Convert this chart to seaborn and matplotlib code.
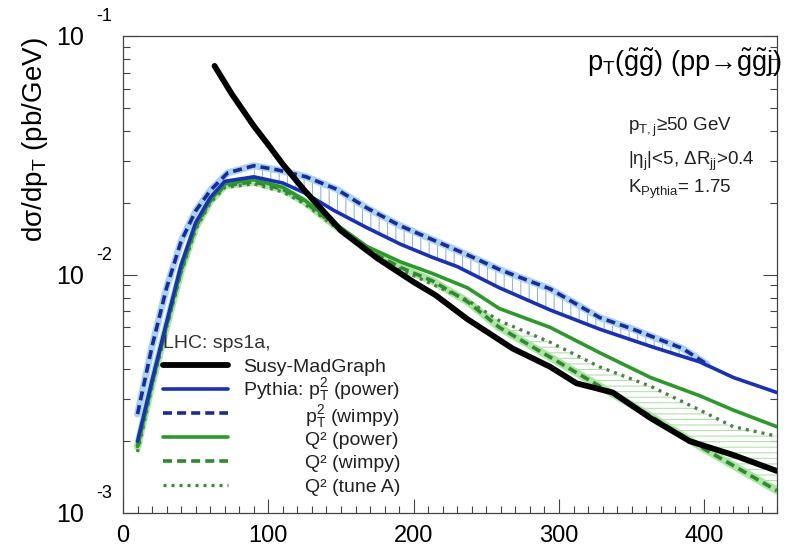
import numpy as np
import matplotlib
matplotlib.use("Agg")
import matplotlib.pyplot as plt
from matplotlib.lines import Line2D
from matplotlib.ticker import MultipleLocator, LogLocator, NullFormatter
import seaborn as sns

# --- values (pT in GeV, dsigma/dpT in pb/GeV) ---
x_mg = [63, 75, 90, 100, 110, 125, 150, 175, 200, 215, 237, 268, 294, 312, 337, 363, 390, 420, 450]
y_mg = [0.075, 0.057, 0.042, 0.035, 0.029, 0.0225, 0.0153, 0.0117, 0.0093, 0.0082, 0.0065, 0.0049,
        0.0041, 0.0035, 0.0032, 0.0025, 0.0020, 0.00175, 0.0015]

x_pt_power = [10, 20, 30, 40, 50, 60, 70, 90, 110, 125, 145, 168, 191, 213, 230, 259, 294, 328, 363, 397, 420, 450]
y_pt_power = [0.0020, 0.0036, 0.0063, 0.0110, 0.0165, 0.0210, 0.0246, 0.0257, 0.0242, 0.0220, 0.0186, 0.0157,
              0.0134, 0.0118, 0.0108, 0.0088, 0.0071, 0.0059, 0.0050, 0.0043, 0.0037, 0.0032]

x_pt_wimpy = [10, 20, 30, 40, 50, 60, 72, 90, 106, 126, 147, 168, 190, 213, 237, 259, 294, 328, 351, 385, 402]
y_pt_wimpy = [0.0026, 0.0050, 0.0088, 0.0138, 0.0185, 0.0225, 0.0267, 0.0286, 0.0275, 0.0257, 0.0228, 0.0190,
              0.0161, 0.0140, 0.0121, 0.0105, 0.0087, 0.0066, 0.0059, 0.0049, 0.0042]

x_q2 = [10, 20, 30, 40, 50, 60, 70, 90, 110, 125, 145, 168, 191, 213, 237, 259, 294, 328, 363, 397, 420, 450]
y_q2_power = [0.0019, 0.0035, 0.0062, 0.0105, 0.0160, 0.0205, 0.0240, 0.0250, 0.0232, 0.0205, 0.0165, 0.0131,
              0.0113, 0.0101, 0.0088, 0.0072, 0.0060, 0.0047, 0.0037, 0.0031, 0.0027, 0.0023]
y_q2_wimpy = [0.0019, 0.0035, 0.0061, 0.0104, 0.0158, 0.0203, 0.0236, 0.0245, 0.0228, 0.0202, 0.0162, 0.0127,
              0.0107, 0.0094, 0.0077, 0.0060, 0.0045, 0.0034, 0.00255, 0.0019, 0.00158, 0.00124]
y_q2_tuneA = [0.0018, 0.0034, 0.0060, 0.0102, 0.0155, 0.0200, 0.0232, 0.0240, 0.0222, 0.0198, 0.0160, 0.0125,
              0.0105, 0.0091, 0.0078, 0.0064, 0.0052, 0.0041, 0.0034, 0.0027, 0.0023, 0.0021]

y_ticks = [1e-3, 1e-2, 1e-1]
y_exps = ["-3", "-2", "-1"]
x_ticks = [0, 100, 200, 300, 400]

legend_title = "LHC: sps1a,"
legend_labels = [
    ("Susy-MadGraph", False),
    (r"Pythia: p$_T^2$ (power)", False),
    (r"p$_T^2$ (wimpy)", True),
    ("Q² (power)", True),
    ("Q² (wimpy)", True),
    ("Q² (tune A)", True),
]

# colours
c_black = "black"
c_blue = "#1730c0"
c_blue_d = "#1b2a9a"
c_blue_lt = "#a9d3f5"
c_green = "#2a9a28"
c_green_d = "#2e8a2e"
c_green_dot = "#4d804d"
c_green_lt = "#a9e6a0"

sns.set_theme(style="ticks")
plt.rcParams["font.family"] = ["Liberation Sans", "DejaVu Sans"]
plt.rcParams["mathtext.default"] = "regular"
plt.rcParams["hatch.linewidth"] = 0.8

fig = plt.figure(figsize=(7.93, 5.5), dpi=100)
ax = fig.add_axes([0.1551, 0.0673, 0.8247, 0.867])

# uncertainty bands (hatched)
xb = np.array(x_pt_power, dtype=float)
sel = (xb >= 80) & (xb <= 402)
ax.fill_between(xb[sel], np.array(y_pt_power)[sel], np.interp(xb[sel], x_pt_wimpy, y_pt_wimpy),
                facecolor="none", edgecolor="#8fb8e0", hatch="||", linewidth=0, zorder=1)
xg = np.array(x_q2, dtype=float)
ax.fill_between(xg, y_q2_tuneA, y_q2_wimpy, where=xg >= 140,
                facecolor="none", edgecolor="#b5e0ad", hatch="---", linewidth=0, zorder=1)

# light halos behind the wimpy curves
sns.lineplot(x=x_pt_wimpy, y=y_pt_wimpy, ax=ax, color=c_blue_lt, linewidth=5.0, zorder=2)
sns.lineplot(x=x_q2, y=y_q2_wimpy, ax=ax, color=c_green_lt, linewidth=5.5, zorder=2)

# curves
sns.lineplot(x=x_q2, y=y_q2_tuneA, ax=ax, color=c_green_dot, linewidth=2.4,
             linestyle=(0, (0.9, 1.5)), zorder=3)
sns.lineplot(x=x_q2, y=y_q2_wimpy, ax=ax, color=c_green_d, linewidth=2.6,
             linestyle=(0, (2.5, 1.4)), zorder=3)
sns.lineplot(x=x_q2, y=y_q2_power, ax=ax, color=c_green, linewidth=2.6, zorder=3)
sns.lineplot(x=x_pt_wimpy, y=y_pt_wimpy, ax=ax, color=c_blue_d, linewidth=2.6,
             linestyle=(0, (2.5, 1.4)), zorder=4)
sns.lineplot(x=x_pt_power, y=y_pt_power, ax=ax, color=c_blue, linewidth=2.6, zorder=4)
sns.lineplot(x=x_mg, y=y_mg, ax=ax, color=c_black, linewidth=4.2, zorder=5)

# axes
ax.set_yscale("log")
ax.set_xlim(0, 450)
ax.set_ylim(1e-3, 1e-1)
ax.set_xlabel("")
ax.set_ylabel("")
ax.set_facecolor("white")
for s in ax.spines.values():
    s.set_color("#444444")
    s.set_linewidth(0.9)
ax.set_xticks(x_ticks)
ax.xaxis.set_minor_locator(MultipleLocator(10))
ax.yaxis.set_major_locator(LogLocator(base=10))
ax.yaxis.set_minor_locator(LogLocator(base=10, subs=np.arange(2, 10)))
ax.yaxis.set_minor_formatter(NullFormatter())
ax.tick_params(axis="both", which="both", direction="in", color="#444444", width=0.8,
               top=False, right=True)
ax.tick_params(axis="both", which="major", length=10)
ax.tick_params(axis="both", which="minor", length=5)
ax.tick_params(axis="x", labelsize=17, pad=9, labelcolor="black")
ax.tick_params(axis="y", labelleft=False)

for v, e in zip(y_ticks, y_exps):
    ax.annotate("10", xy=(0, v), xycoords=ax.get_yaxis_transform(), xytext=(-28, -1.5),
                textcoords="offset points", ha="right", va="center", fontsize=18, color="black",
                annotation_clip=False)
    ax.annotate(e, xy=(0, v), xycoords=ax.get_yaxis_transform(), xytext=(-19, 14),
                textcoords="offset points", ha="left", va="center", fontsize=13, color="black",
                annotation_clip=False)

ax.text(-0.1346, 0.997, r"d$\sigma$/dp$_T$ (pb/GeV)", transform=ax.transAxes, rotation=90,
        ha="center", va="top", fontsize=20, color="black")

ax.text(1.008, 0.943, r"p$_T$($\tilde{g}\tilde{g}$) (pp→$\tilde{g}\tilde{g}$j)",
        transform=ax.transAxes, ha="right", va="center", fontsize=19.5, color="black")
ax.text(0.772, 0.809, r"p$_{T,j}$≥50 GeV", transform=ax.transAxes, ha="left", va="center",
        fontsize=13.5, color="#222222")
ax.text(0.772, 0.738, r"|$\eta_j$|<5, $\Delta$R$_{jj}$>0.4", transform=ax.transAxes, ha="left",
        va="center", fontsize=13.5, color="#222222")
ax.text(0.772, 0.678, r"K$_{Pythia}$= 1.75", transform=ax.transAxes, ha="left", va="center",
        fontsize=13.5, color="#222222")

# legend drawn by hand so the rows keep an even pitch
handles = [
    dict(color=c_black, lw=4.2),
    dict(color=c_blue, lw=2.6),
    dict(color=c_blue_d, lw=2.6, ls=(0, (2.5, 1.4))),
    dict(color=c_green, lw=2.6),
    dict(color=c_green_d, lw=2.6, ls=(0, (2.5, 1.4))),
    dict(color=c_green_dot, lw=2.4, ls=(0, (0.9, 1.5))),
]
# small vertical nudges (axes fraction) so the sub/superscripts of neighbouring rows do not collide
text_nudge = [0.0, 0.0015, -0.0035, -0.0015, 0.0, 0.0]
ax.text(0.061, 0.356, legend_title, transform=ax.transAxes, ha="left", va="center",
        fontsize=14, color="#333333")
row_y = 0.310 - 0.0503 * np.arange(len(legend_labels))
for yy, st, (lab, indent), dn in zip(row_y, handles, legend_labels, text_nudge):
    ax.add_line(Line2D([0.061, 0.161], [yy, yy], transform=ax.transAxes, **st))
    ax.text(0.278 if indent else 0.183, yy - 0.0148 + dn, lab, transform=ax.transAxes,
            ha="left", va="baseline", fontsize=14, color="#222222")

fig.savefig("out.png", dpi=100, facecolor="white")
